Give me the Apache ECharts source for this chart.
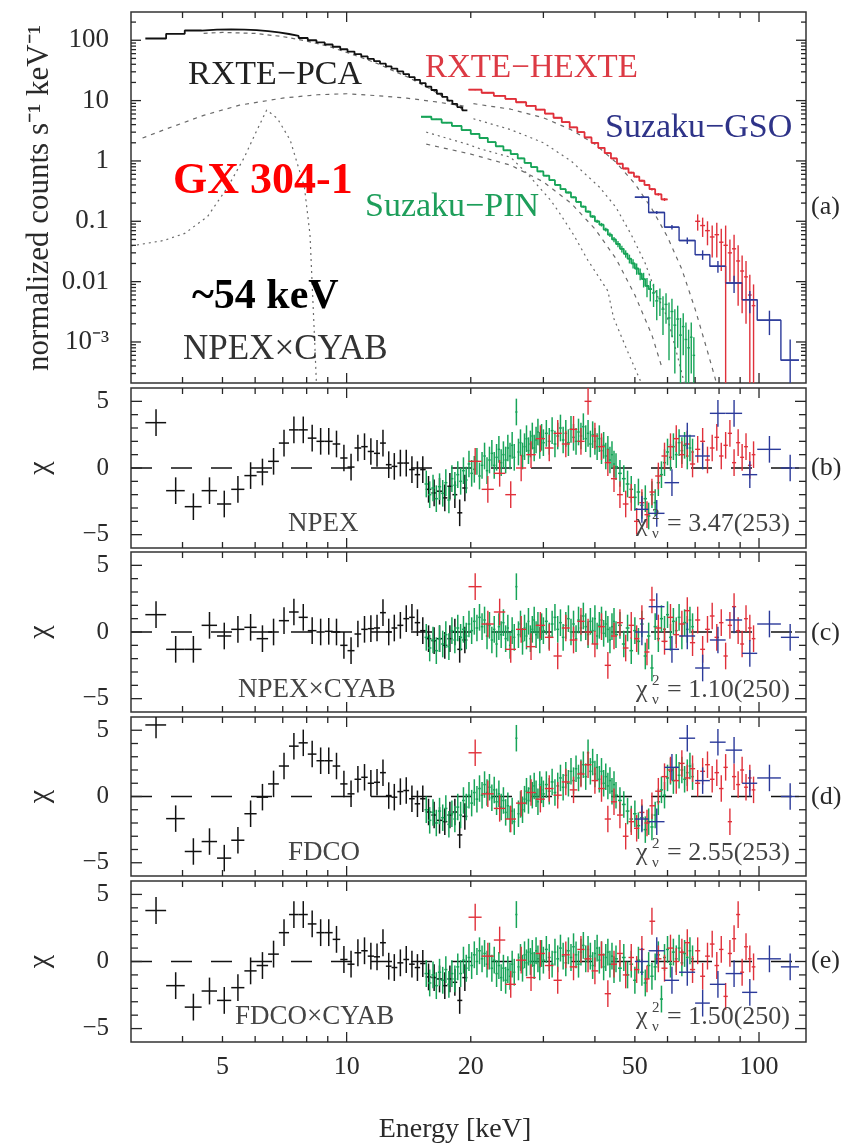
<!DOCTYPE html>
<html><head><meta charset="utf-8">
<script src="https://cdn.jsdelivr.net/npm/echarts@6/dist/echarts.min.js"></script>
<style>html,body{margin:0;padding:0;background:#fff}#c{width:848px;height:1148px}</style>
</head><body><div id="c"></div>
<script>
// ---------------- DATA ----------------
const PCA_E = [3.45,3.85,4.25,4.65,5.05,5.45,5.85,6.25,6.65,7.05,7.45,7.85,8.25,8.65,9.05,9.45,9.85,10.25,10.65,11.05,11.45,11.85,12.25,12.65,13.05,13.5,13.95,14.4,14.85,15.3,15.8,16.3,16.8,17.3,17.8,18.3,18.8,19.35];
const PCA_FLUX = [107,128,145,150,152,150,147,142,135,127,118,109,100,92,85,78,71,65,59,54,49,45,41,37,34,30.5,27.5,24.5,22,19.5,17,15,13,11.5,10,8.8,7.8,6.9];
const PCA_RES_B = [3.4,-1.7,-2.9,-1.7,-2.7,-1.6,-0.57,-0.3,0.5,1.87,2.86,2.86,2.24,2.0,2.0,1.8,0.75,0.07,1.5,1.6,1.24,1.1,1.87,0.25,0.12,0.37,0.37,-0.12,-0.5,-0.12,-1.6,-1.87,-1.74,-2.24,-1.37,-2.0,-3.36,-1.5];
const PCA_RES_C = [1.3,-1.3,-1.3,0.5,-0.3,0.2,0.35,-0.5,0.0,0.85,1.5,1.1,0.1,0.0,0.05,0.0,-1.0,-1.4,-0.15,0.2,0.25,0.3,1.45,0.0,0.3,0.5,1.0,1.1,0.7,0.1,-0.5,-0.65,-0.5,-1.0,-0.5,0.0,-1.3,-0.6];
const PCA_RES_D = [5.4,-1.67,-4.15,-3.4,-4.65,-3.3,-1.3,-0.05,0.95,2.3,3.8,4.05,3.2,2.7,2.7,2.3,0.95,0.2,1.3,1.45,1.0,1.07,1.8,0.07,-0.05,0.37,0.45,-0.17,-0.55,-0.17,-1.17,-1.4,-1.8,-1.9,-1.4,-1.17,-2.9,-1.5];
const PCA_RES_E = [3.8,-1.8,-3.4,-2.2,-2.9,-1.95,-0.7,-0.3,0.55,2.15,3.5,3.5,2.8,2.15,2.15,1.65,0.15,-0.2,0.65,0.8,0.4,0.35,1.4,-0.35,-0.45,-0.1,0.15,-0.2,-0.45,-0.15,-1.15,-1.2,-1.3,-1.8,-1.3,-1.55,-2.9,-1.2];

const PIN_E = [15.6,15.9,16.2,16.5,16.8,17.1,17.4,17.7,18.0,18.3,18.6,18.9,19.2,19.5,19.8,20.1,20.4,20.7,21.0,21.3,21.6,21.9,22.2,22.5,22.8,23.1,23.4,23.7,24.0,24.3,24.6,24.9,25.2,25.5,25.8,26.1,26.4,26.7,27.0,27.3,27.6,27.9,28.2,28.5,28.8,29.1,29.4,29.7,
 30.0,30.5,31.0,31.5,32.0,32.5,33.0,33.5,34.0,34.5,35.0,35.5,36.0,36.5,37.0,37.5,38.0,38.5,39.0,39.5,40.0,40.5,41.0,41.5,42.0,42.5,43.0,43.5,44.0,44.5,
 45,46,47,48,49,50,51,52,53,54,55,56,57,58,59,60,61,62,63,64,65,66,67,68,69];
const PIN_RES_B = [-1.2,-2.0,-1.5,-2.3,-1.4,-1.9,-1.1,-2.4,-0.8,-1.3,-0.5,-1.0,-0.2,-0.9,0.3,-0.4,-0.1,0.5,-0.6,0.2,0.9,-0.2,0.6,1.1,0.2,0.8,1.4,0.4,1.0,0.6,1.5,0.9,1.7,0.8,4.2,1.2,1.9,0.9,1.6,2.2,1.3,1.8,2.4,1.5,2.1,2.7,1.7,2.3,
 1.9,2.6,2.0,2.8,1.8,2.4,3.0,2.1,2.6,1.9,2.9,2.3,2.0,2.7,2.4,3.1,2.2,2.6,1.8,2.5,2.0,1.6,2.2,1.3,1.7,0.9,1.4,0.6,1.0,0.3,
 0.1,-0.4,-0.8,-1.2,-1.6,-2.2,-1.8,-2.8,-2.3,-3.6,-2.0,-2.6,-1.1,-0.5,0.4,1.2,0.8,1.6,1.0,1.9,1.3,1.7,0.9,1.5,1.2];
const PIN_RES_C = [-0.4,-1.2,-0.6,-1.4,-0.5,-0.9,-0.2,-1.1,0.1,-0.6,0.3,-0.4,0.2,-0.3,0.6,0.1,0.8,0.3,1.1,0.4,0.9,-0.3,0.5,-0.6,0.2,-0.9,0.4,-0.2,0.7,-0.5,0.3,-1.0,0.1,-0.4,3.4,-0.2,0.6,-0.7,0.3,-0.3,0.8,-0.5,0.2,0.9,-0.2,0.5,-0.6,0.4,
 0.1,0.8,-0.3,0.6,1.1,0.2,0.7,-0.4,0.5,1.0,0.0,0.6,-0.5,0.9,0.3,1.2,0.4,-0.2,0.8,0.1,1.0,-0.3,0.5,0.9,-0.1,0.6,0.2,-0.6,0.4,0.8,
 -0.2,0.5,-0.9,0.3,-1.4,0.1,-0.7,0.6,-1.8,-0.3,-2.7,0.4,-0.5,1.0,0.2,1.3,-0.4,0.8,0.1,1.1,-0.3,0.7,0.2,0.9,0.4];
const PIN_RES_D = [-1.0,-1.8,-1.2,-2.0,-1.1,-1.6,-0.9,-2.1,-1.3,-1.7,-0.8,-1.4,-0.3,-0.8,0.1,-0.5,0.3,-0.2,0.6,0.1,0.9,0.3,0.7,-0.1,0.5,-0.4,0.2,-0.8,-0.3,-1.2,-0.7,-1.7,-1.1,-1.9,4.4,-1.3,-0.6,-1.0,-0.2,0.4,-0.3,0.6,0.1,0.8,0.2,-0.4,0.9,0.5,
 0.2,0.9,0.4,1.1,0.3,0.8,1.4,0.7,1.6,1.0,1.9,1.2,2.1,1.4,1.8,2.4,1.5,3.3,1.9,2.6,1.7,2.2,1.3,1.9,1.0,1.5,0.8,1.2,0.4,0.9,
 0.1,-0.3,-0.6,-1.1,-1.7,-1.3,-2.2,-1.6,-2.5,-1.9,-2.3,-1.4,-0.4,0.5,0.1,1.4,1.9,1.2,2.2,1.6,2.0,1.3,1.8,2.3,1.5];
const PIN_RES_E = [-0.9,-1.6,-1.0,-1.8,-0.8,-1.4,-0.6,-1.7,-0.9,-1.3,-0.4,-0.9,0.1,-0.5,0.3,-0.3,0.5,0.0,0.8,0.2,0.6,-0.2,0.4,-0.5,0.1,-0.9,-0.3,-1.2,-0.5,-1.4,-0.6,-1.1,-0.2,-0.8,3.5,-0.4,0.3,-0.5,0.5,-0.1,0.7,0.0,0.6,-0.3,0.8,0.2,-0.4,0.6,
 0.1,0.9,0.3,-0.2,0.7,0.2,1.0,0.4,-0.1,0.8,0.3,1.1,0.5,-0.2,0.7,1.2,0.2,0.9,0.4,-0.3,0.6,1.0,0.1,0.5,-0.4,0.3,0.7,-0.2,0.4,-0.6,
 0.2,-0.5,0.3,-1.0,-0.2,-1.4,0.1,-0.8,-1.6,-0.3,-1.1,-0.4,0.5,-2.8,0.3,0.9,-0.2,0.7,0.2,1.0,-0.1,0.6,0.3,0.8,0.2];

const PIN_TOP_E = [15.6,16.5,17.5,18.5,19.5,20.5,21.5,22.5,23.5,24.5,25.5,26.5,27.5,28.5,29.5,30.5,31.5,32.5,33.5,34.5,35.5,36.5,37.5,38.5,39.5,40.5,41.5,42.5,43.5,44.5,45.5,46.5,47.5,48.5,49.5,50.5,51.5,52.5,53.5,54.5,55.5,56.5,57.5,58.5,59.5,60.5,61.5,62.5,63.5,64.5,65.5,66.5,67.5,68.5,69.5];
const PIN_TOP_FLUX = [5.4,4.9,4.3,3.8,3.25,2.8,2.4,2.05,1.75,1.5,1.3,1.1,0.93,0.79,0.67,0.57,0.48,0.4,0.34,0.3,0.25,0.21,0.175,0.145,0.12,0.1,0.088,0.073,0.06,0.05,0.042,0.035,0.029,0.024,0.02,0.0165,0.0135,0.011,0.0085,0.0075,0.0065,0.0048,0.0052,0.0035,0.0042,0.0025,0.0032,0.0019,0.0024,0.0013,0.0018,0.0011,0.0008,0.0012,0.0006];
const PIN_TOP_ERR = [0.1,0.09,0.08,0.07,0.06,0.05,0.045,0.04,0.035,0.03,0.03,0.025,0.02,0.02,0.018,0.016,0.014,0.012,0.011,0.01,0.009,0.008,0.007,0.006,0.006,0.006,0.006,0.005,0.005,0.005,0.005,0.0045,0.004,0.004,0.0035,0.0035,0.003,0.003,0.003,0.0028,0.0027,0.0025,0.0025,0.0022,0.0022,0.002,0.002,0.0016,0.0016,0.0012,0.0012,0.001,0.0008,0.0009,0.0006];

const HEXTE_E = [20.5,22,23.5,25,26.5,28,29.5,31,32.5,34,35.5,37,38.5,40,41.5,43,44.5,46,47.5,49,50.5,52,53.5,55,57,59,61,63,65,67,69,71,73,75,77,79,81,83,85,87,89,91,93,95,97];
const HEXTE_FLUX = [15.2,13.5,12.0,10.7,9.4,8.2,7.1,6.1,5.2,4.4,3.6,3.0,2.45,2.0,1.65,1.35,1.1,0.9,0.75,0.64,0.55,0.47,0.40,0.34,0.28,0.23,null,null,null,null,null,0.1,0.085,0.07,0.055,0.06,0.045,0.04,0.03,0.035,0.022,0.015,0.012,0.006,0.004];
const HEXTE_ERR = [0.3,0.27,0.24,0.21,0.19,0.16,0.14,0.12,0.1,0.09,0.075,0.065,0.055,0.045,0.04,0.035,0.03,0.027,0.024,0.022,0.02,0.018,0.016,0.015,0.014,0.013,null,null,null,null,null,0.03,0.03,0.03,0.03,0.035,0.03,0.045,0.02,0.025,0.018,0.012,0.01,0.007,0.005];
const HEXTE_RES_B = [0.5,-1.6,-0.4,-2.0,0.0,1.0,2.2,1.5,2.6,1.8,2.9,2.0,5.0,2.4,1.6,0.4,-0.8,-2.0,-2.7,-2.2,-4.0,-2.6,-3.5,-1.8,-0.6,0.9,1.6,2.2,1.0,1.8,0.3,1.4,2.0,0.6,1.5,2.3,0.9,1.7,2.6,0.4,1.9,0.8,1.6,0.2,1.0];
const HEXTE_RES_C = [3.4,0.6,1.5,-1.3,0.2,-1.1,0.5,-0.4,-1.8,0.3,-0.6,0.8,0.0,-0.9,0.4,-2.5,-0.3,0.7,-1.2,0.5,-0.5,1.0,-1.5,2.4,0.3,-0.7,1.1,-0.2,0.6,1.6,-0.8,0.9,-1.3,0.2,1.2,-0.4,0.7,-1.8,0.5,1.9,0.1,-0.9,1.0,0.3,-0.5];
const HEXTE_RES_D = [3.3,0.2,-0.9,-1.7,-0.5,0.3,-0.2,0.6,0.1,1.1,0.5,1.7,2.4,1.2,0.6,-1.7,-0.4,-1.4,-3.0,-1.9,-2.4,-1.2,-2.0,-0.7,0.4,1.5,2.0,1.2,2.5,1.4,2.1,1.0,1.9,2.4,1.3,1.8,0.6,2.2,-1.9,1.5,0.9,2.0,0.7,1.4,0.5];
const HEXTE_RES_E = [3.3,0.4,1.6,-1.7,0.1,-1.2,0.6,-0.3,-1.4,0.5,-0.4,0.9,0.2,-0.7,0.5,-2.4,-0.2,0.6,-1.0,0.3,-0.6,0.9,-1.3,3.0,0.2,-0.5,1.0,0.0,0.7,1.4,-0.6,0.8,-1.1,0.4,1.3,-0.3,0.9,-2.6,0.6,1.7,3.5,-0.8,1.1,0.2,-0.4];

const GSO_EDGES = [50,54,59,64,70,76,83,91,99,113,125];
const GSO_E = [52,56.5,61.5,67,73,79.5,87,95,106,119];
const GSO_FLUX = [0.25,0.14,0.08,0.048,0.028,0.018,0.0095,0.005,0.0023,0.0005];
const GSO_ERR = [0.01,0.008,0.007,0.006,0.005,0.004,0.003,0.002,0.001,0.0006];
const GSO_RES_B = [-3.1,-3.4,-1.1,2.4,0.9,4.1,4.1,-0.5,1.4,0.0];
const GSO_RES_C = [0.0,1.9,-1.3,-0.3,-2.7,-0.6,0.9,-1.6,0.6,-0.4];
const GSO_RES_D = [-1.7,-1.9,2.2,4.4,1.2,4.1,3.5,1.0,1.4,0.0];
const GSO_RES_E = [0.0,0.8,-1.4,-0.8,-3.1,-1.7,-0.9,-2.3,0.2,-0.4];

// model components (grey) in panel (a)
const M_PCA_A_E = [4.5,5,6,7,8,9,10,11,12,13,14,15,16,17,18,19.5];
const M_PCA_A_V = [130,135,130,115,97,80,63,50,40,31,25,19.5,15.5,12,9.3,6.5];
const M_PCA_B_E = [3.2,3.7,4.5,5.5,7,8.5,10,12,14,16.5,19.5];
const M_PCA_B_V = [2.4,3.5,5.7,8.4,11,12.5,13,12,11,9.5,8];
const M_FE_E = [3.0,3.6,4.05,4.6,5.15,5.65,6.0,6.4,6.8,7.3,7.9,8.15,8.35,8.45];
const M_FE_V = [0.039,0.048,0.063,0.12,0.37,1.15,2.8,7,5,2.2,0.37,0.06,0.0014,0.0002];
const M_HX_B_E = [20.3,25,30,35,40,45,50,55,60,65,70,75,79];
const M_HX_B_V = [8.9,7.2,5.2,3.3,1.9,0.95,0.42,0.16,0.055,0.016,0.0035,0.0007,0.0002];
const M_HX_A_E = [20.3,25,30,35,41,45,49,53,56,60,63,66];
const M_HX_A_V = [5,3.3,2.0,1.0,0.37,0.17,0.06,0.02,0.007,0.0025,0.0007,0.0002];
const M_PIN_A_E = [15.6,19.6,21,25,27.5,31.3,33,35.5,38.4,43,44.4,48,52];
const M_PIN_A_V = [3.0,1.9,1.6,1.15,0.6,0.22,0.13,0.06,0.023,0.007,0.0025,0.0007,0.0002];
const M_PIN_B_E = [15.6,20,25,30,35,40,45,50,55,58];
const M_PIN_B_V = [1.9,1.3,0.85,0.45,0.2,0.075,0.024,0.006,0.0013,0.0004];

// ticks / labels
const X_MAJOR = [10,100];
const X_MINOR = [4,5,6,7,8,9,20,30,40,50,60,70,80,90];
const X_LABELS = [5,10,20,50,100];
const YA_MAJOR = [0.001,0.01,0.1,1,10,100];
const YA_MINOR = [3e-4,4e-4,5e-4,6e-4,7e-4,8e-4,9e-4,0.002,0.003,0.004,0.005,0.006,0.007,0.008,0.009,0.02,0.03,0.04,0.05,0.06,0.07,0.08,0.09,0.2,0.3,0.4,0.5,0.6,0.7,0.8,0.9,2,3,4,5,6,7,8,9,20,30,40,50,60,70,80,90,200];
const YR_MAJOR = [-5,0,5];
const YR_MINOR = [-4,-3,-2,-1,1,2,3,4];
const YA_MIN = 2.09e-4, YA_MAX = 294;
const X_MIN = 3, X_MAX = 130;

const PANEL_NAMES = ['NPEX','NPEX×CYAB','FDCO','FDCO×CYAB'];
const CHI_TEXT = ['3.47(253)','1.10(250)','2.55(253)','1.50(250)'];
const PANEL_TAGS = ['(a)','(b)','(c)','(d)','(e)'];

// ---------------- LAYOUT ----------------
const GRIDS = [{top:12,height:371},{top:388,height:160},{top:552,height:160},{top:717,height:159},{top:881,height:161}];
const LEFT = 131, RIGHT = 42;
const SERIF = '"Liberation Serif","Times New Roman",serif';
const INK = '#2a2a2a';
const C_BLACK = '#111111', C_RED = '#e0303a', C_GREEN = '#17a458', C_BLUE = '#2b3a9a';

function binEdges(E){
  const n=E.length, lo=[], hi=[];
  for(let i=0;i<n;i++){
    lo.push(i===0 ? E[0]-(E[1]-E[0])/2 : (E[i-1]+E[i])/2);
    hi.push(i===n-1 ? E[n-1]+(E[n-1]-E[n-2])/2 : (E[i]+E[i+1])/2);
  }
  return {lo,hi};
}
const PCA_B = binEdges(PCA_E), PIN_B = binEdges(PIN_E), PINT_B = binEdges(PIN_TOP_E), HX_B = binEdges(HEXTE_E);
const GSO_B = {lo:GSO_EDGES.slice(0,-1), hi:GSO_EDGES.slice(1)};

function resData(E,B,V){ return E.map((e,i)=>[e,B.lo[i],B.hi[i],V[i],V[i]-1,V[i]+1]); }
function topData(E,B,V,ERR){
  const out=[];
  E.forEach((e,i)=>{ if(V[i]==null) return; out.push([e,B.lo[i],B.hi[i],V[i],Math.max(V[i]-ERR[i],YA_MIN*0.5),V[i]+ERR[i]]); });
  return out;
}
function stairs(B,V,n){
  const pts=[]; const m = n==null?V.length:n;
  for(let i=0;i<m;i++){ if(V[i]==null) continue; pts.push([B.lo[i],V[i]],[B.hi[i],V[i]]); }
  return pts;
}

function crossSeries(gi, data, color, lw, z){
  return {type:'custom', xAxisIndex:gi, yAxisIndex:gi, clip:true, silent:true, z:z||3,
    encode:{x:0,y:3}, data:data,
    renderItem:function(params, api){
      const x=api.value(0), lo=api.value(1), hi=api.value(2), y=api.value(3), yl=api.value(4), yh=api.value(5);
      const a=api.coord([lo,y]), b=api.coord([hi,y]), c=api.coord([x,yl]), d=api.coord([x,yh]);
      const st={stroke:color,lineWidth:lw};
      return {type:'group',children:[
        {type:'line',shape:{x1:a[0],y1:a[1],x2:b[0],y2:b[1]},style:st},
        {type:'line',shape:{x1:c[0],y1:c[1],x2:d[0],y2:d[1]},style:st}
      ]};
    }};
}
function lineSeries(gi, data, color, width, type, z){
  return {type:'line', xAxisIndex:gi, yAxisIndex:gi, data:data, symbol:'none', silent:true, z:z||2,
    lineStyle:{color:color,width:width,type:type}, clip:true, animation:false};
}
function pairs(E,V){ return E.map((e,i)=>[e,V[i]]); }

// tick marks on all four frame sides, placed through the axes' own scales
function tickSeries(gi){
  const top = gi===0;
  const yRef = top ? 1 : 0, xRef = 10;
  const data = [];
  X_MAJOR.forEach(v=>data.push([v,yRef,0]));
  X_MINOR.forEach(v=>data.push([v,yRef,1]));
  (top?YA_MAJOR:YR_MAJOR).forEach(v=>data.push([xRef,v,2]));
  (top?YA_MINOR:YR_MINOR).forEach(v=>data.push([xRef,v,3]));
  const LEN = top ? [10,6,10,5] : [10,6,11,7];
  return {type:'custom', xAxisIndex:gi, yAxisIndex:gi, silent:true, z:10, clip:false, data:data,
    encode:{x:0,y:1},
    renderItem:function(params, api){
      const cs = params.coordSys, k = api.value(2), p = api.coord([api.value(0), api.value(1)]);
      const st = {stroke:'#262626', lineWidth:1.3};
      const L = LEN[k];
      if(k<2){
        return {type:'group',children:[
          {type:'line',shape:{x1:p[0],y1:cs.y,x2:p[0],y2:cs.y+L},style:st},
          {type:'line',shape:{x1:p[0],y1:cs.y+cs.height,x2:p[0],y2:cs.y+cs.height-L},style:st}]};
      }
      return {type:'group',children:[
        {type:'line',shape:{x1:cs.x,y1:p[1],x2:cs.x+L,y2:p[1]},style:st},
        {type:'line',shape:{x1:cs.x+cs.width,y1:p[1],x2:cs.x+cs.width-L,y2:p[1]},style:st}]};
    }};
}

// ---------------- AXES ----------------
const xAxes=[], yAxes=[];
GRIDS.forEach((g,gi)=>{
  xAxes.push({gridIndex:gi, type:'log', logBase:10, min:X_MIN, max:X_MAX, position:'bottom',
    splitLine:{show:false}, axisLine:{show:false}, axisTick:{show:false}, axisPointer:{show:false},
    axisLabel:{show:gi===4, customValues:X_LABELS, fontFamily:SERIF, fontSize:26, color:INK, margin:12, formatter:v=>String(Math.round(v))}});
  if(gi===0){
    const labMap = {'-3':'10⁻³','-2':'0.01','-1':'0.1','0':'1','1':'10','2':'100'};
    yAxes.push({gridIndex:0, type:'log', logBase:10, min:YA_MIN, max:YA_MAX, position:'left',
      splitLine:{show:false}, axisLine:{show:false}, axisTick:{show:false},
      axisLabel:{show:true, customValues:YA_MAJOR, fontFamily:SERIF, fontSize:27, color:INK, margin:22,
        formatter:v=>labMap[String(Math.round(Math.log10(v)))]}});
  } else {
    yAxes.push({gridIndex:gi, type:'value', min:-6, max:6, position:'left',
      splitLine:{show:false}, axisLine:{show:false}, axisTick:{show:false},
      axisLabel:{show:true, customValues:YR_MAJOR, fontFamily:SERIF, fontSize:25, color:INK, margin:22,
        formatter:v=>v<0?'−'+Math.abs(v):String(v)}});
  }
});

// ---------------- SERIES ----------------
const series = [];
const GREY = '#6a6a6a';
series.push(lineSeries(0, pairs(M_PCA_A_E,M_PCA_A_V), GREY, 1.2, [4,4], 1));
series.push(lineSeries(0, pairs(M_PCA_B_E,M_PCA_B_V), GREY, 1.2, [4,5], 1));
series.push(lineSeries(0, pairs(M_FE_E,M_FE_V), GREY, 1.2, [2,4], 1));
series.push(lineSeries(0, pairs(M_HX_B_E,M_HX_B_V), GREY, 1.2, [4,5], 1));
series.push(lineSeries(0, pairs(M_HX_A_E,M_HX_A_V), GREY, 1.2, [2,4], 1));
series.push(lineSeries(0, pairs(M_PIN_A_E,M_PIN_A_V), GREY, 1.2, [2,4], 1));
series.push(lineSeries(0, pairs(M_PIN_B_E,M_PIN_B_V), GREY, 1.2, [4,5], 1));

series.push(lineSeries(0, stairs(PCA_B,PCA_FLUX), C_BLACK, 1.8, 'solid', 4));
series.push(lineSeries(0, stairs(HX_B,HEXTE_FLUX,26), C_RED, 1.8, 'solid', 4));
series.push(crossSeries(0, topData(HEXTE_E,HX_B,HEXTE_FLUX,HEXTE_ERR), C_RED, 1.4, 5));
series.push(lineSeries(0, stairs(PINT_B,PIN_TOP_FLUX,40), C_GREEN, 1.8, 'solid', 4));
series.push(crossSeries(0, topData(PIN_TOP_E,PINT_B,PIN_TOP_FLUX,PIN_TOP_ERR), C_GREEN, 1.4, 5));
series.push(lineSeries(0, stairs(GSO_B,GSO_FLUX), C_BLUE, 1.4, 'solid', 4));
series.push(crossSeries(0, topData(GSO_E,GSO_B,GSO_FLUX,GSO_ERR), C_BLUE, 1.4, 6));

const RES = [
  [PCA_RES_B, PIN_RES_B, HEXTE_RES_B, GSO_RES_B],
  [PCA_RES_C, PIN_RES_C, HEXTE_RES_C, GSO_RES_C],
  [PCA_RES_D, PIN_RES_D, HEXTE_RES_D, GSO_RES_D],
  [PCA_RES_E, PIN_RES_E, HEXTE_RES_E, GSO_RES_E]
];
RES.forEach((r,k)=>{
  const gi=k+1;
  series.push(lineSeries(gi, [[X_MIN,0],[X_MAX,0]], C_BLACK, 1.5, [21,19], 2));
  series.push(crossSeries(gi, resData(PCA_E,PCA_B,r[0]), C_BLACK, 1.5, 3));
  series.push(crossSeries(gi, resData(PIN_E,PIN_B,r[1]), C_GREEN, 1.5, 4));
  series.push(crossSeries(gi, resData(HEXTE_E,HX_B,r[2]), C_RED, 1.4, 5));
  series.push(crossSeries(gi, resData(GSO_E,GSO_B,r[3]), C_BLUE, 1.4, 6));
});
GRIDS.forEach((g,gi)=>series.push(tickSeries(gi)));

// ---------------- TEXT ----------------
function txt(x,y,text,size,color,opts){
  const o = opts||{};
  return {type:'text', x:x, y:y, rotation:o.rot||0, z:100, silent:true,
    style:{text:text, fontFamily:SERIF, fontSize:size, fontWeight:o.bold?'bold':'normal', fill:color,
      align:o.align||'left', verticalAlign:o.va||'middle'}};
}
const graphics = [
  txt(40,198,'normalized counts s⁻¹ keV⁻¹',31,INK,{rot:Math.PI/2,align:'center'}),
  txt(188,75,'RXTE−PCA',34,'#222'),
  txt(425,68,'RXTE−HEXTE',33,'#dc3a44'),
  txt(605,128,'Suzaku−GSO',34,'#2e3388'),
  txt(365,207,'Suzaku−PIN',34,'#1d9e5a'),
  txt(173,182,'GX 304-1',44,'#ff0000',{bold:true}),
  txt(192,297,'~54 keV',42,'#000',{bold:true}),
  txt(183,350,'NPEX×CYAB',35,'#333'),
  txt(455,1130,'Energy [keV]',28,INK,{align:'center'})
];
const TAG_Y = [207,468,633,797,961];
PANEL_TAGS.forEach((t,i)=>graphics.push(txt(811,TAG_Y[i],t,26,INK)));
const NAME_X = [288,238,288,235];
const NAME_Y = [524,690,853,1017];
PANEL_NAMES.forEach((n,k)=>{
  const gi=k+1, g=GRIDS[gi];
  graphics.push(txt(40,g.top+g.height/2,'χ',30,INK,{rot:Math.PI/2,align:'center'}));
  graphics.push(txt(NAME_X[k],NAME_Y[k],n,27,'#444'));
  graphics.push(txt(790,NAME_Y[k],'= '+CHI_TEXT[k],26,'#444',{align:'right'}));
  graphics.push(txt(636,NAME_Y[k],'χ',26,'#444'));
  graphics.push(txt(652,NAME_Y[k]-9,'2',15,'#444'));
  graphics.push(txt(652,NAME_Y[k]+10,'ν',15,'#444'));
});

const option = {
  animation:false,
  backgroundColor:'#ffffff',
  grid: GRIDS.map(g=>({left:LEFT,right:RIGHT,top:g.top,height:g.height,show:true,borderColor:'#333',borderWidth:1.5,backgroundColor:'transparent',outerBoundsMode:'none'})),
  xAxis:xAxes, yAxis:yAxes, series:series, graphic:{elements:graphics}
};
const chart = echarts.init(document.getElementById('c'), null, {renderer:'canvas'});
chart.setOption(option);
</script></body></html>
